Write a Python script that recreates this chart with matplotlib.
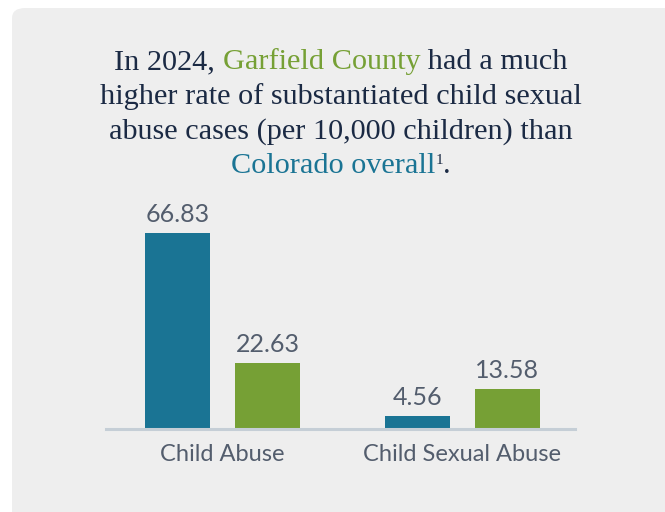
import matplotlib
matplotlib.use("Agg")
import matplotlib.pyplot as plt
from matplotlib.patches import FancyBboxPatch
import numpy as np

categories = ["Child Abuse", "Child Sexual Abuse"]
colorado = [66.83, 4.56]
garfield = [22.63, 13.58]

BLUE = "#1a7494"
GREEN = "#76a035"
NAVY = "#1b2a44"
GRAY_TXT = "#535d6d"

W, H = 665, 512
fig = plt.figure(figsize=(W / 100, H / 100), dpi=100)
fig.patch.set_facecolor("white")

# rounded gray panel (behind the axes)
panel = FancyBboxPatch((12 / W, -0.1), 1.0, 1.1 - 8 / H,
                       boxstyle="round,pad=0,rounding_size=0.02",
                       transform=fig.transFigure, facecolor="#eeeeee",
                       edgecolor="none", zorder=-5)
fig.patches.append(panel)

# title, piece by piece so words can have their own colour
title_lines = [
    [("In 2024, ", NAVY), ("Garfield County", GREEN), (" had a much", NAVY)],
    [("higher rate of substantiated child sexual", NAVY)],
    [("abuse cases (per 10,000 children) than", NAVY)],
    [("Colorado overall", BLUE), ("1", NAVY), (".", NAVY)],
]
line_y = [62, 97, 132, 166]
fs_title = 21.8
renderer = fig.canvas.get_renderer()
for parts, yy in zip(title_lines, line_y):
    texts = []
    for s, c in parts:
        sup = (s == "1")
        t = fig.text(0, 1 - (yy - (6 if sup else 0)) / H, s, color=c,
                     fontsize=fs_title * (0.5 if sup else 1),
                     family="Liberation Serif", va="center", ha="left")
        texts.append(t)
    widths = [t.get_window_extent(renderer).width for t in texts]
    x = 341 - sum(widths) / 2
    for t, w in zip(texts, widths):
        t.set_x(x / W)
        x += w

# bars
x = np.arange(len(categories))
bw = 65 / 240
off = 45 / 240
ax = fig.add_axes([106 / W, 83 / H, (575 - 106) / W, 220 / H])
ax.set_facecolor("none")
b1 = ax.bar(x - off, colorado, bw, color=BLUE)
b2 = ax.bar(x + off, garfield, bw, color=GREEN)
ax.set_xlim(-0.485, 1.469)
ax.set_ylim(0, 75)

for bars in (b1, b2):
    for bar in bars:
        h = bar.get_height()
        ax.annotate(f"{h:.2f}", (bar.get_x() + bar.get_width() / 2, h),
                    xytext=(0, 5), textcoords="offset points",
                    ha="center", va="bottom", fontsize=18,
                    family="Lato", color=GRAY_TXT)

for s in ["top", "right", "left"]:
    ax.spines[s].set_visible(False)
ax.spines["bottom"].set_color("#c5ced6")
ax.spines["bottom"].set_linewidth(2.2)
ax.set_yticks([])
ax.set_xticks(x)
ax.set_xticklabels(categories, fontsize=17, family="Lato", color=GRAY_TXT)
ax.tick_params(axis="x", length=0, pad=11)

fig.savefig("out.png", dpi=100)
